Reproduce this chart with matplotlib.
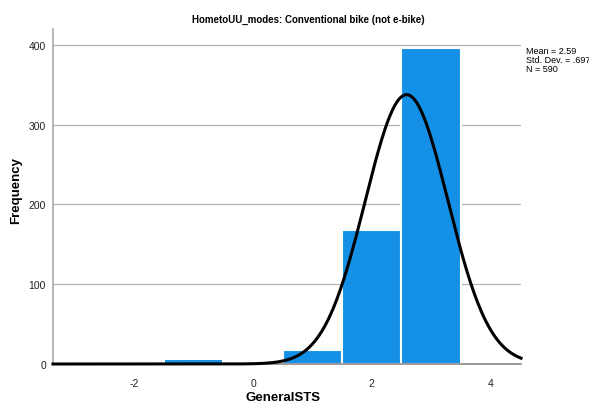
import numpy as np
import matplotlib
matplotlib.use("Agg")
import matplotlib.pyplot as plt

plt.rcParams['font.family'] = ['Liberation Sans', 'DejaVu Sans']
plt.rcParams['axes.unicode_minus'] = False

# histogram of GeneralSTS, bins of width 1 centred on integers
bin_centers = [-1, 0, 1, 2, 3]
counts = [6, 2, 18, 168, 396]
mean = 2.59
std = 0.697
n = 590
bin_width = 1.0

fig = plt.figure(figsize=(5.89, 4.06), dpi=100)
ax = fig.add_axes([0.09, 0.101, 0.7946, 0.825])

ax.bar(bin_centers, counts, width=bin_width, color='#1490e6',
       edgecolor='white', linewidth=1.5, zorder=2)

# fitted normal curve scaled to counts
xs = np.linspace(-3.375, 4.52, 400)
pdf = np.exp(-0.5 * ((xs - mean) / std) ** 2) / (std * np.sqrt(2 * np.pi))
ax.plot(xs, n * bin_width * pdf, color='black', lw=2.2, zorder=3, clip_on=False)

ax.set_xlim(-3.375, 4.52)
ax.set_ylim(0, 420)
ax.set_xticks([-2, 0, 2, 4])
ax.set_yticks([0, 100, 200, 300, 400])
ax.yaxis.grid(True, color='#b4b4b4', lw=0.9, zorder=0)
ax.set_axisbelow(True)
ax.tick_params(axis='both', length=0, labelsize=7.5, colors='#222222')
ax.tick_params(axis='x', pad=10)
ax.tick_params(axis='y', pad=5)
for s in ['top', 'right']:
    ax.spines[s].set_visible(False)
ax.spines['left'].set_color('#aaaaaa')
ax.spines['bottom'].set_color('#888888')
ax.spines['left'].set_linewidth(1.2)
ax.spines['bottom'].set_linewidth(1.2)

fig.text(0.481, 0.02, 'GeneralSTS', ha='center', va='center',
         fontsize=9.5, fontweight='bold')
fig.text(0.028, 0.53, 'Frequency', ha='center', va='center', rotation=90,
         fontsize=9.5, fontweight='bold')

fig.text(0.523, 0.95, 'HometoUU_modes: Conventional bike (not e-bike)',
         ha='center', va='center', fontsize=7, fontweight='bold')
fig.text(0.893, 0.885, 'Mean = 2.59\nStd. Dev. = .697\nN = 590',
         ha='left', va='top', fontsize=6.5, linespacing=1.0)

fig.savefig('out.png', dpi=100)
